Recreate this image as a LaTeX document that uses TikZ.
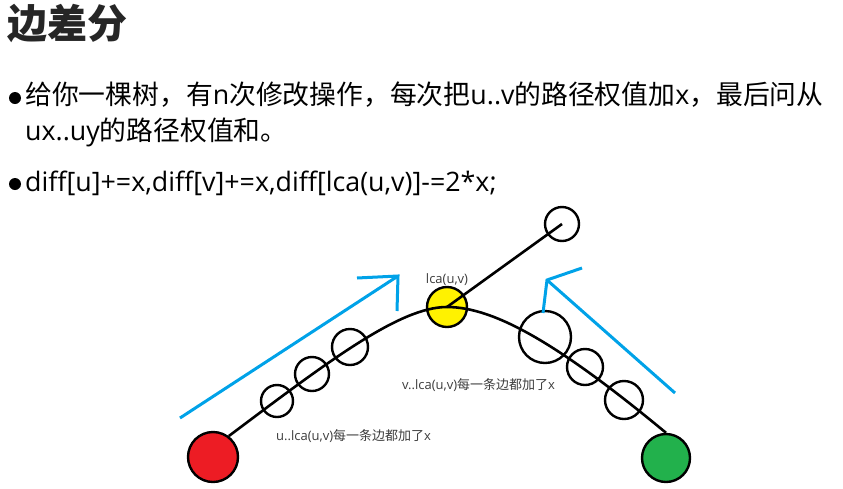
\documentclass[tikz,border=0pt]{standalone}
\usepackage{fontspec}
\setmainfont{Open Sans}
\newfontfamily\cjk{Noto Sans CJK SC}
\definecolor{pblue}{RGB}{0,162,232}
\definecolor{pred}{RGB}{237,28,36}
\definecolor{pyellow}{RGB}{255,242,0}
\definecolor{pgreen}{RGB}{34,177,76}
\definecolor{titlecol}{RGB}{38,38,38}
\definecolor{labcol}{RGB}{60,60,60}
\begin{document}
\begin{tikzpicture}[x=1pt,y=-1pt,
  vert/.style={circle, draw=black, line width=2.4pt, inner sep=0pt},
  treeedge/.style={line width=2.6pt, black},
  blu/.style={pblue, line width=3pt},
  lab/.style={font=\fontsize{13}{15}\selectfont, text=labcol, inner sep=0pt},
  txt/.style={anchor=base west, inner sep=0pt, font=\fontsize{26.8}{30}\selectfont, text=black},
  bulletdot/.style={circle, fill=black, minimum size=12pt, inner sep=0pt}]
\useasboundingbox (0,0) rectangle (843,488);
% texts
\node[anchor=base west, inner sep=0pt, font=\cjk\bfseries\fontsize{40}{44}\selectfont, text=titlecol] (title) at (7,38) {边差分};
\node[bulletdot] (dot1) at (15,98) {};
\node[txt] (line1) at (25,104) {{\cjk 给你一棵树，有}n{\cjk 次修改操作，每次把}u..v{\cjk 的路径权值加}x{\cjk ，最后问从}};
\node[txt] (line2) at (25,140) {ux..uy{\cjk 的路径权值和。}};
\node[bulletdot] (dot2) at (15,184) {};
\node[txt] (line3) at (25,191) {diff[u]+=x,diff[v]+=x,diff[lca(u,v)]-=2*x;};
% tree nodes
\node[vert, fill=pred, minimum size=50pt] (u) at (213,457) {};
\node[vert, fill=pgreen, minimum size=48pt] (v) at (666,458) {};
\node[vert, fill=pyellow, minimum size=40pt] (l) at (447,307) {};
\node[vert, minimum size=34pt] (top) at (562,224) {};
\node[vert, minimum size=32pt] (a1) at (277,401) {};
\node[vert, minimum size=34pt] (a2) at (312,374) {};
\node[vert, minimum size=36pt] (a3) at (350,347) {};
\node[vert, minimum size=52pt] (b1) at (545,337) {};
\node[vert, minimum size=36pt] (b2) at (585,367) {};
\node[vert, minimum size=38pt] (b3) at (624,400) {};
% edges
\draw[treeedge] (u.53) .. controls (330,360) and (400,307) .. (l.center)
  .. controls (495,307) and (560,345) .. (v.north);
\draw[treeedge] (l.center) -- (top.center);
% blue arrows
\coordinate (ls) at (180,418);
\coordinate (lt) at (398,276);
\coordinate (la) at (357,278);
\coordinate (lb) at (397,311);
\draw[blu] (ls) -- (lt);
\draw[blu] (la) -- (lt) -- (lb);
\coordinate (rs) at (675,393);
\coordinate (rt) at (547,280);
\coordinate (ra) at (582,268);
\coordinate (rb) at (543,313);
\draw[blu] (rs) -- (rt);
\draw[blu] (ra) -- (rt) -- (rb);
% labels
\node[lab] (lcalab) at (447,280) {lca(u,v)};
\node[lab, anchor=west] (ulab) at (276,436) {u..lca(u,v){\cjk 每一条边都加了}x};
\node[lab, anchor=west] (vlab) at (402,385) {v..lca(u,v){\cjk 每一条边都加了}x};
\end{tikzpicture}
\end{document}
